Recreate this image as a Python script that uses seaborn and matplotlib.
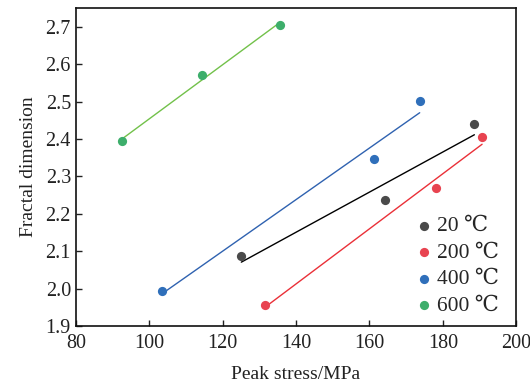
import matplotlib
matplotlib.use("Agg")
import matplotlib.pyplot as plt
import seaborn as sns
import numpy as np
import pandas as pd

sns.set_style("ticks")
plt.rcParams['font.family'] = ['Liberation Serif', 'DejaVu Serif']

groups = ["20 ℃", "200 ℃", "400 ℃", "600 ℃"]
x20 = [125.1, 164.2, 188.6]
y20 = [2.088, 2.236, 2.439]
x200 = [131.6, 178.1, 190.7]
y200 = [1.956, 2.268, 2.406]
x400 = [103.5, 161.2, 173.7]
y400 = [1.993, 2.347, 2.501]
x600 = [92.6, 114.4, 135.7]
y600 = [2.394, 2.571, 2.706]

point_colors = ["#4a4a4a", "#e84350", "#2f6fba", "#3dae6b"]
line_colors = ["#000000", "#ea3038", "#2f62b0", "#72c14a"]

xs = [x20, x200, x400, x600]
ys = [y20, y200, y400, y600]

fig = plt.figure(figsize=(5.3, 3.9), dpi=100)
ax = fig.add_axes([0.143, 0.164, 0.831, 0.815])

for g, x, y, pc, lc in zip(groups, xs, ys, point_colors, line_colors):
    df = pd.DataFrame({"x": x, "y": y})
    sns.regplot(data=df, x="x", y="y", ax=ax, ci=None, truncate=True, label=g,
                scatter_kws=dict(s=44, color=pc, alpha=1, linewidths=0, zorder=3),
                line_kws=dict(color=lc, lw=1.0, zorder=2, label=None))

ax.set_xlim(80, 200)
ax.set_ylim(1.9, 2.75)
ax.set_xticks(np.arange(80, 201, 20))
ax.set_yticks(np.round(np.arange(1.9, 2.71, 0.1), 1))
ax.set_yticklabels([f"{v:.1f}" for v in np.arange(1.9, 2.71, 0.1)])
ax.tick_params(direction="in", labelsize=14.5, length=4, width=1, colors="#222222", labelcolor="#222222")
ax.tick_params(axis="x", pad=6)
for sp in ax.spines.values():
    sp.set_linewidth(1.2)
    sp.set_color("#111111")
ax.set_xlabel("Peak stress/MPa", fontsize=14, color="#222222", labelpad=9)
ax.set_ylabel("Fractal dimension", fontsize=14, color="#222222", labelpad=6)

handles = ax.collections[:4]
leg = ax.legend(handles, groups, loc="lower right", bbox_to_anchor=(0.995, -0.015), frameon=False,
                fontsize=15.5, handletextpad=0.1, labelspacing=0.3,
                handlelength=1.0, borderpad=0.2)

fig.savefig("out.png", dpi=100)
